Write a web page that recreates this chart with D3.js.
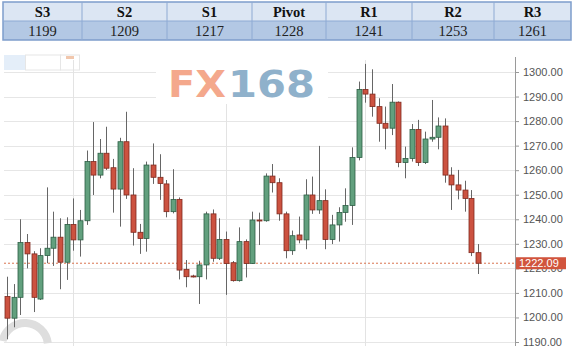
<!DOCTYPE html>
<html><head><meta charset="utf-8">
<script src="https://cdn.jsdelivr.net/npm/d3@7"></script>
<style>html,body{margin:0;padding:0;background:#fff;}svg{display:block;}</style>
</head><body>
<svg id="c" width="574" height="358"></svg>
<script>
// ---- data ----
const levelNames = ["S3","S2","S1","Pivot","R1","R2","R3"];
const levelValues = [1199,1209,1217,1228,1241,1253,1261];

const opens  = [1208.5,1199.7,1208.2,1230.5,1225.9,1207.5,1225.2,1228.2,1232.7,1222.5,1237.9,1231.6,1239.4,1263.5,1258.0,1266.9,1261.0,1252.3,1271.6,1249.9,1234.7,1232.2,1262.1,1257.1,1254.4,1243.1,1248.1,1219.6,1216.9,1216.6,1221.4,1242.2,1224.1,1231.8,1222.3,1215.0,1230.9,1222.0,1239.7,1239.4,1257.6,1254.9,1242.2,1227.2,1233.6,1231.6,1249.9,1243.8,1247.6,1231.8,1237.7,1242.8,1245.6,1265.2,1292.9,1291.0,1285.9,1279.1,1277.1,1287.7,1263.1,1264.8,1276.6,1263.1,1272.7,1273.4,1278.0,1258.0,1254.0,1251.9,1248.5,1226.4];
const highs  = [1216.6,1213.6,1240.0,1234.0,1227.0,1228.2,1253.0,1243.1,1240.4,1240.8,1248.5,1243.8,1268.0,1279.6,1272.7,1277.7,1264.6,1273.2,1283.8,1260.8,1238.1,1263.5,1270.9,1266.5,1256.0,1260.4,1248.9,1223.4,1217.4,1223.1,1243.1,1244.0,1240.4,1235.0,1223.0,1236.7,1231.8,1243.1,1242.7,1258.7,1262.5,1256.7,1243.1,1235.4,1241.1,1256.3,1257.4,1269.9,1252.2,1241.8,1244.9,1252.6,1269.3,1296.1,1303.3,1301.1,1289.3,1285.9,1295.1,1288.0,1269.6,1278.8,1280.5,1275.7,1288.6,1281.5,1281.1,1261.2,1260.1,1255.7,1251.9,1229.9];
const lows   = [1191.1,1196.0,1201.0,1220.0,1202.2,1207.1,1222.1,1221.0,1211.5,1215.3,1227.2,1224.8,1237.7,1249.9,1256.7,1260.1,1242.7,1237.0,1248.3,1229.3,1225.9,1226.8,1254.4,1247.9,1240.8,1242.4,1215.5,1212.3,1216.3,1205.5,1215.5,1222.7,1223.4,1209.2,1214.6,1214.6,1216.3,1221.8,1229.5,1239.0,1250.9,1239.4,1224.1,1225.5,1230.2,1227.8,1242.2,1242.2,1227.8,1229.9,1230.9,1239.0,1237.7,1264.0,1287.5,1281.8,1271.6,1268.5,1274.3,1261.2,1256.7,1263.5,1261.7,1262.5,1271.6,1268.5,1254.9,1243.8,1248.1,1243.1,1225.0,1217.7];
const closes = [1199.7,1208.2,1230.5,1225.9,1208.2,1225.2,1228.2,1232.7,1222.5,1237.9,1231.6,1239.4,1263.5,1258.0,1266.9,1260.8,1252.3,1271.6,1249.9,1234.7,1232.2,1262.1,1257.1,1254.6,1243.1,1248.1,1219.3,1216.6,1216.8,1221.4,1242.2,1224.1,1231.8,1222.0,1215.0,1230.9,1222.0,1239.7,1239.3,1257.6,1254.9,1242.2,1227.2,1233.3,1231.6,1249.9,1243.8,1247.6,1231.8,1237.7,1242.8,1245.6,1265.2,1292.9,1291.0,1285.9,1279.1,1277.1,1287.7,1263.1,1264.8,1276.6,1263.1,1272.7,1273.4,1278.0,1258.0,1254.0,1251.9,1248.5,1226.4,1222.09];
const monthStarts = [10, 33, 54];
const yTickValues = [1190,1200,1210,1220,1230,1240,1250,1260,1270,1280,1290,1300];
const lastPrice = 1222.09;

// ---- layout ----
const svg = d3.select("#c");
const plotL = 4, plotR = 515, plotT = 57, plotB = 346;
const colEdges = [3, 82, 167, 252, 326, 412, 494, 571];

// ---- table ----
const tbl = svg.append("g");
tbl.append("rect").attr("x",3).attr("y",2).attr("width",568).attr("height",19).attr("fill","#dce6f3");
tbl.append("rect").attr("x",3).attr("y",21).attr("width",568).attr("height",19).attr("fill","#b3c8e4");
tbl.append("rect").attr("x",3).attr("y",2).attr("width",568).attr("height",38)
  .attr("fill","none").attr("stroke","#7e9dcb").attr("stroke-width",1.5);
tbl.append("line").attr("x1",3).attr("x2",571).attr("y1",21).attr("y2",21).attr("stroke","#8eaad3").attr("stroke-width",1);
tbl.selectAll("line.sep").data(colEdges.slice(1,-1)).join("line").attr("class","sep")
  .attr("x1",d=>d).attr("x2",d=>d).attr("y1",2).attr("y2",40).attr("stroke","#8eaad3");
tbl.selectAll("text.h").data(levelNames).join("text").attr("class","h")
  .attr("x",(d,i)=>(colEdges[i]+colEdges[i+1])/2).attr("y",17)
  .attr("text-anchor","middle").attr("font-family","Liberation Serif, Times New Roman, serif")
  .attr("font-weight","bold").attr("font-size",14.5).attr("fill","#111").text(d=>d);
tbl.selectAll("text.v").data(levelValues).join("text").attr("class","v")
  .attr("x",(d,i)=>(colEdges[i]+colEdges[i+1])/2).attr("y",36)
  .attr("text-anchor","middle").attr("font-family","Liberation Serif, Times New Roman, serif")
  .attr("font-size",14.5).attr("fill","#222").text(d=>d);

// ---- scales ----
const y = d3.scaleLinear().domain([1190,1300]).range([342,72]);
const n = closes.length;
const step = (479 - 6) / (n - 1);
const x = d3.scaleBand().domain(d3.range(n)).range([6 - step/2, 6 + step*(n-0.5)]).padding(0.3);
const cx = i => x(i) + x.bandwidth()/2;

// ---- toolbar remnants ----
svg.append("rect").attr("x",4).attr("y",55).attr("width",21).attr("height",15).attr("fill","#e4eef9");
svg.append("rect").attr("x",25.5).attr("y",55).attr("width",35).attr("height",15).attr("fill","none").attr("stroke","#e6e6e6");
svg.append("rect").attr("x",60.5).attr("y",55).attr("width",19).attr("height",15).attr("fill","none").attr("stroke","#e6e6e6");
svg.append("rect").attr("x",66).attr("y",56).attr("width",8).attr("height",3).attr("fill","#f1c7ad");

// ---- grid ----
const grid = svg.append("g");
grid.selectAll("line.hg").data(yTickValues).join("line").attr("class","hg")
  .attr("x1",plotL).attr("x2",plotR).attr("y1",d=>Math.round(y(d))+0.5).attr("y2",d=>Math.round(y(d))+0.5)
  .attr("stroke","#e6e6e6");
grid.selectAll("line.vg").data(monthStarts).join("line").attr("class","vg")
  .attr("x1",d=>Math.round(cx(d))+0.5).attr("x2",d=>Math.round(cx(d))+0.5).attr("y1",plotT+3).attr("y2",plotB)
  .attr("stroke","#e3e3e3");

// ---- spinner arc (faint) ----
svg.append("path").attr("transform","translate(25,346)")
  .attr("d", d3.arc().innerRadius(19).outerRadius(27).startAngle(-1.35).endAngle(1.45)())
  .attr("fill","#dedede");

// ---- logo ----
svg.append("rect").attr("x",156).attr("y",58).attr("width",172).attr("height",46).attr("fill","#fff");
svg.append("text").attr("x",168).attr("y",97).attr("font-family","DejaVu Sans, Verdana, sans-serif")
  .attr("font-weight","bold").attr("font-size",37).attr("fill","#f4a88c")
  .attr("textLength",58).attr("lengthAdjust","spacingAndGlyphs").text("FX");
svg.append("text").attr("x",228).attr("y",97).attr("font-family","DejaVu Sans, Verdana, sans-serif")
  .attr("font-weight","bold").attr("font-size",37).attr("fill","#8fb1cb")
  .attr("textLength",87).attr("lengthAdjust","spacingAndGlyphs").text("168");

// ---- price line ----
svg.append("line").attr("x1",plotL).attr("x2",plotR).attr("y1",y(lastPrice)).attr("y2",y(lastPrice))
  .attr("stroke","#d9734f").attr("stroke-width",1).attr("stroke-dasharray","2,2");

// ---- candles ----
const candles = d3.range(n).map(i => ({i, o:opens[i], h:highs[i], l:lows[i], c:closes[i]}));
const cg = svg.append("g");
cg.selectAll("line.wick").data(candles).join("line").attr("class","wick")
  .attr("x1",d=>Math.round(cx(d.i))+0.5).attr("x2",d=>Math.round(cx(d.i))+0.5)
  .attr("y1",d=>y(d.h)).attr("y2",d=>y(d.l)).attr("stroke","#666").attr("stroke-width",1);
cg.selectAll("rect.body").data(candles).join("rect").attr("class","body")
  .attr("x",d=>Math.round(cx(d.i)) - 2)
  .attr("width",5)
  .attr("y",d=>y(Math.max(d.o,d.c)))
  .attr("height",d=>Math.max(1, Math.abs(y(d.o)-y(d.c))))
  .attr("fill",d=> d.c > d.o ? "#62a07e" : (d.c < d.o ? "#cc5240" : "#444"))
  .attr("stroke",d=> d.c > d.o ? "#2d5e45" : (d.c < d.o ? "#7f2a1f" : "#333"))
  .attr("stroke-width",0.8);

// ---- axis ----
const axis = d3.axisRight(y).tickValues(yTickValues).tickFormat(d3.format(".2f")).tickSize(4).tickPadding(4);
const ag = svg.append("g").attr("transform",`translate(${plotR},0)`).call(axis);
ag.select(".domain").attr("d",`M0.5,${plotT}V${plotB}`).attr("stroke","#9a9a9a");
ag.selectAll(".tick line").attr("stroke","#9a9a9a");
ag.selectAll(".tick text").attr("fill","#555").attr("font-family","Liberation Sans, Arial, sans-serif").attr("font-size",11);

// ---- last price label ----
svg.append("rect").attr("x",plotR+1).attr("y",y(lastPrice)-6).attr("width",50).attr("height",12).attr("fill","#d1543d");
svg.append("text").attr("x",plotR+4).attr("y",y(lastPrice)+4).attr("fill","#fff")
  .attr("font-family","Liberation Sans, Arial, sans-serif").attr("font-size",11).text(d3.format(".2f")(lastPrice));
</script>
</body></html>
